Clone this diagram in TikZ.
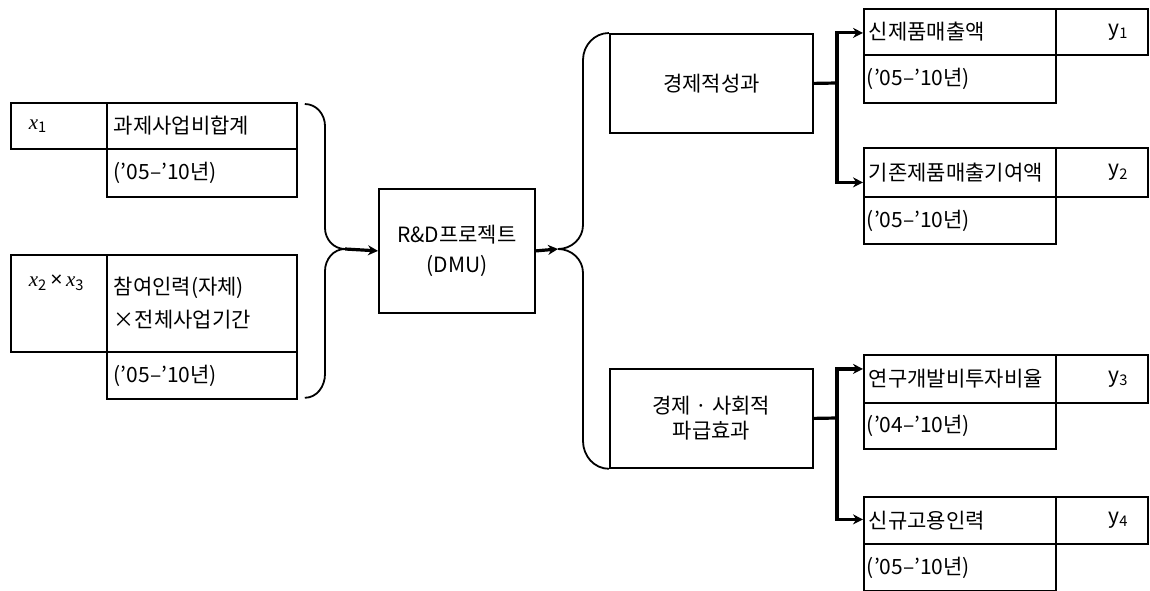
\documentclass[tikz,border=0pt]{standalone}
\usepackage{fontspec}
\setmainfont{Noto Sans CJK KR}
\newfontfamily\tnr{Liberation Serif}
\newfontfamily\lsans{Liberation Sans}
\usetikzlibrary{arrows.meta,calc}
\newcommand\xv[1]{{\tnr\itshape x}\textsubscript{#1}}
\tikzset{
  cell/.style={draw, line width=1.8pt, rectangle, anchor=north west, inner ysep=0pt, align=left,
    font=\fontsize{21pt}{24pt}\selectfont},
  big/.style={draw, line width=1.8pt, rectangle, anchor=north west, align=center,
    font=\fontsize{21pt}{24pt}\selectfont},
  brace/.style={line width=1.8pt},
  thk/.style={line width=3.2pt},
  arr/.style={line width=3.2pt, -{Stealth[length=10pt,width=10pt]}},
}
\begin{document}
\begin{tikzpicture}[x=1pt,y=-1pt]
\useasboundingbox (0,0) rectangle (1150,591);
% left input boxes
\node[cell, minimum height=46pt, text width=60pt, inner xsep=18pt] (l1a) at (10,102) {\xv{1}};
\node[cell, minimum height=46pt, text width=176pt, inner xsep=7pt] (l1b) at (106,102) {과제사업비합계};
\node[cell, minimum height=48pt, text width=176pt, inner xsep=7pt] (l1c) at (106,148) {('05–'10년)};
\node[cell, minimum height=97pt, text width=60pt, inner xsep=18pt] (l2a) at (10,254) {\xv{2}\,{\lsans ×}\,\xv{3}\\[14pt]\strut};
\node[cell, minimum height=97pt, text width=176pt, inner xsep=7pt, font=\fontsize{21pt}{33pt}\selectfont] (l2b) at (106,254) {참여인력(자체)\\×전체사업기간};
\node[cell, minimum height=47pt, text width=176pt, inner xsep=7pt] (l2c) at (106,351) {('05–'10년)};
% DMU
\node[big, minimum width=156pt, minimum height=124pt, font=\fontsize{21pt}{30pt}\selectfont] (dmu) at (378,188) {R\&D프로젝트\\(DMU)};
% outcome boxes
\node[big, minimum width=203pt, minimum height=99pt] (econ) at (609,33) {경제적성과};
\node[big, minimum width=203pt, minimum height=99pt, font=\fontsize{21pt}{25pt}\selectfont] (soc) at (609,368) {경제 · 사회적\\파급효과};
% right output boxes
\node[cell, minimum height=46pt, text width=182pt, inner xsep=5pt] (r1a) at (863,8) {신제품매출액};
\node[cell, minimum height=46pt, text width=52pt, inner xsep=20pt, align=right] (r1y) at (1055,8) {y\textsubscript{1}};
\node[cell, minimum height=48pt, text width=186pt, inner xsep=3pt] (r1c) at (863,54) {('05–'10년)};
\node[cell, minimum height=49pt, text width=182pt, inner xsep=5pt] (r2a) at (863,147) {기존제품매출기여액};
\node[cell, minimum height=49pt, text width=52pt, inner xsep=20pt, align=right] (r2y) at (1055,147) {y\textsubscript{2}};
\node[cell, minimum height=47pt, text width=186pt, inner xsep=3pt] (r2c) at (863,196) {('05–'10년)};
\node[cell, minimum height=48pt, text width=182pt, inner xsep=5pt] (r3a) at (863,354) {연구개발비투자비율};
\node[cell, minimum height=48pt, text width=52pt, inner xsep=20pt, align=right] (r3y) at (1055,354) {y\textsubscript{3}};
\node[cell, minimum height=46pt, text width=186pt, inner xsep=3pt] (r3c) at (863,402) {('04–'10년)};
\node[cell, minimum height=47pt, text width=182pt, inner xsep=5pt] (r4a) at (863,496) {신규고용인력};
\node[cell, minimum height=47pt, text width=52pt, inner xsep=20pt, align=right] (r4y) at (1055,496) {y\textsubscript{4}};
\node[cell, minimum height=47pt, text width=186pt, inner xsep=3pt] (r4c) at (863,543) {('05–'10년)};
% left brace
\coordinate (lj) at (345,249);
\draw[brace] ($(l1b.north east)+(7,2)$) to[out=0,in=90] (325,126) -- (325,228) to[out=-90,in=180] (lj);
\draw[brace] ($(l2c.south east)+(7,-2)$) to[out=0,in=-90] (325,374) -- (325,271) to[out=90,in=180] (lj);
\draw[arr] (lj) -- (dmu.west);
% right brace
\coordinate (rj) at (558,249);
\draw[arr] (dmu.east) -- (rj);
\draw[brace] (rj) to[out=0,in=-90] (583,225) -- (583,60) to[out=90,in=180] (econ.north west);
\draw[brace] (rj) to[out=0,in=90] (583,273) -- (583,441) to[out=-90,in=180] (soc.south west);
% right connectors
\coordinate (ej) at (837,83);
\draw[thk] (econ.east) -- (ej);
\draw[arr] (ej) |- ($(r1a.west)+(0,1)$);
\draw[arr] (ej) |- ($(r2a.west)+(0,10)$);
\coordinate (sj) at (837,418);
\draw[thk] (soc.east) -- (sj);
\draw[arr] (sj) |- ($(r3a.west)+(0,-10)$);
\draw[arr] (sj) |- ($(r4a.west)+(0,-1)$);
\end{tikzpicture}
\end{document}
